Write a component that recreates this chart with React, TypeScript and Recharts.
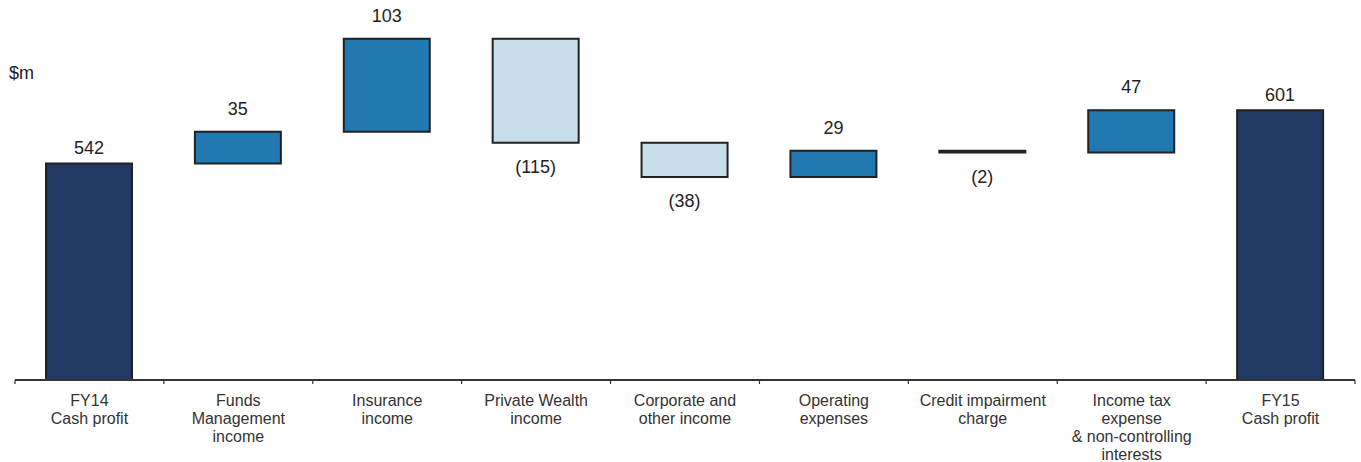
import React from "react";
import { BarChart, Bar, XAxis, YAxis, Cell, LabelList } from "recharts";

const categoryLines: string[][] = [
  ["FY14", "Cash profit"],
  ["Funds", "Management", "income"],
  ["Insurance", "income"],
  ["Private Wealth", "income"],
  ["Corporate and", "other income"],
  ["Operating", "expenses"],
  ["Credit impairment", "charge"],
  ["Income tax", "expense", "& non-controlling", "interests"],
  ["FY15", "Cash profit"],
];
const values = [542, 35, 103, -115, -38, 29, -2, 47, 601];
const kinds = ["total", "delta", "delta", "delta", "delta", "delta", "delta", "delta", "total"];
const valueLabels = ["542", "35", "103", "(115)", "(38)", "29", "(2)", "47", "601"];

const COLORS: Record<string, string> = {
  total: "#213A63",
  up: "#2279B1",
  down: "#C7DFE8",
};

const FONT = "'Liberation Sans', Arial, Helvetica, sans-serif";

let running = 0;
const data = values.map((v, i) => {
  let range: [number, number];
  let type: string;
  if (kinds[i] === "total") {
    range = [0, v];
    running = v;
    type = "total";
  } else {
    const start = running;
    running = start + v;
    range = [Math.min(start, running), Math.max(start, running)];
    type = v >= 0 ? "up" : "down";
  }
  return { name: categoryLines[i].join(" "), idx: i, range, type, label: valueLabels[i] };
});

const CategoryTick = (props: any) => {
  const { x, y, payload, index, width } = props;
  const n = categoryLines.length;
  const half = payload && payload.offset ? payload.offset : width / n / 2;
  const lines = categoryLines[payload.index ?? index] || [];
  return (
    <g>
      <line x1={x - half} x2={x - half} y1={y} y2={y + 4} stroke="#333" strokeWidth={1.2} />
      {index === n - 1 && (
        <line x1={x + half} x2={x + half} y1={y} y2={y + 4} stroke="#333" strokeWidth={1.2} />
      )}
      <text x={x} y={y} textAnchor="middle" fill="#333" fontSize={16} fontFamily={FONT}>
        {lines.map((l, k) => (
          <tspan key={k} x={x} y={y + 26 + k * 18}>
            {l}
          </tspan>
        ))}
      </text>
    </g>
  );
};

const ValueLabel = (props: any) => {
  const { x, y, width, height, index } = props;
  const d = data[index];
  if (!d) return null;
  const cx = x + width / 2;
  let ty: number;
  if (d.type === "total") ty = y - 9;
  else if (d.type === "up") ty = y - 17;
  else ty = y + height + 30;
  return (
    <text x={cx} y={ty} textAnchor="middle" fill="#222" fontSize={18} fontFamily={FONT}>
      {d.label}
    </text>
  );
};

export default function App() {
  return (
    <div style={{ position: "absolute", left: 0, top: 0, width: 1361, height: 462, background: "#fff" }}>
      <BarChart
        width={1361}
        height={462}
        data={data}
        margin={{ top: 19, right: 6, bottom: 0, left: 15 }}
      >
        <YAxis hide domain={[302, 702]} allowDataOverflow type="number" />
        <XAxis
          dataKey="name"
          height={82}
          interval={0}
          tickLine={false}
          tickSize={0}
          tickMargin={0}
          axisLine={{ stroke: "#333", strokeWidth: 2 }}
          tick={<CategoryTick />}
        />
        <Bar dataKey="range" barSize={86} stroke="#222" strokeWidth={2} isAnimationActive={false}>
          {data.map((d, i) => (
            <Cell key={i} fill={COLORS[d.type]} />
          ))}
          <LabelList dataKey="label" content={<ValueLabel />} />
        </Bar>
      </BarChart>
      <svg width={60} height={100} style={{ position: "absolute", left: 0, top: 0 }}>
        <text x={9} y={79} fontSize={18} fill="#222" fontFamily={FONT}>
          $m
        </text>
      </svg>
    </div>
  );
}
